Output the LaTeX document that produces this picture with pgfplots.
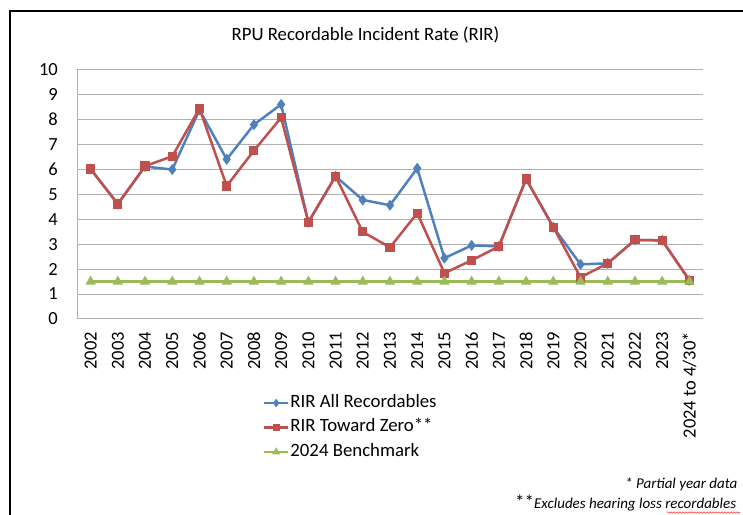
\documentclass[border=0pt]{standalone}
\usepackage{fontspec}
\setmainfont{Carlito}
\usepackage{pgfplots}
\pgfplotsset{compat=1.18}
\usetikzlibrary{decorations.pathmorphing}
\definecolor{cblue}{HTML}{4F81BD}
\definecolor{cred}{HTML}{C0504D}
\definecolor{cgreen}{HTML}{9BBB59}
\definecolor{cgrid}{HTML}{B0B0B0}
\begin{document}
\begin{tikzpicture}[x=1bp,y=1bp]
\useasboundingbox (0,0) rectangle (743,515);
\draw[line width=2bp] (10,-2) -- (10,504) -- (750,504);
\node[anchor=base, font=\fontsize{18.8bp}{22bp}\selectfont] at (365.5,474) {RPU Recordable Incident Rate (RIR)};
\begin{axis}[
  at={(77bp,196bp)}, anchor=south west,
  width=626bp, height=249.5bp, scale only axis,
  xmin=-0.5, xmax=22.5, ymin=0, ymax=10,
  ytick={0,1,...,10},
  xtick={0,1,...,22},
  xticklabels={2002,2003,2004,2005,2006,2007,2008,2009,2010,2011,2012,2013,2014,2015,2016,2017,2018,2019,2020,2021,2022,2023,{2024 to 4/30*}},
  axis x line*=bottom, axis y line*=left,
  axis line style={cgrid, line width=1bp, -},
  ymajorgrids, grid style={cgrid, line width=1bp},
  major tick length=0pt,
  tick label style={font=\fontsize{18.5bp}{22bp}\selectfont, inner sep=0pt},
  xticklabel shift=13bp, yticklabel shift=19bp,
  x tick label style={rotate=90, anchor=east},
  /pgf/number format/assume math mode=true,
  clip=false,
  legend style={at={(0.297,-0.2986)}, anchor=north west, draw=none, fill=none,
    inner sep=0pt, outer sep=0pt, font=\fontsize{18.8bp}{22bp}\selectfont,
    row sep=5.5bp, nodes={inner sep=1bp, text height=13bp, text depth=4bp}},
  legend cell align=left,
  legend image code/.code={\draw[mark repeat=2,mark phase=2,mark size=2.2bp] plot coordinates {(0bp,0bp)(12bp,0bp)(24bp,0bp)};},
]
\addplot[cblue, line width=2.5bp, mark=diamond*, mark size=3.5bp, mark options={solid}] coordinates {
(0,6.01)(1,4.61)(2,6.11)(3,5.99)(4,8.38)(5,6.40)(6,7.79)(7,8.60)(8,3.88)(9,5.72)(10,4.77)(11,4.56)
(12,6.04)(13,2.44)(14,2.95)(15,2.91)(16,5.61)(17,3.68)(18,2.19)(19,2.23)(20,3.17)(21,3.15)(22,1.55)};
\addlegendentry{RIR All Recordables}
\addplot[cred, line width=2.5bp, mark=square*, mark size=3.3bp, mark options={solid}] coordinates {
(0,6.01)(1,4.61)(2,6.13)(3,6.52)(4,8.44)(5,5.33)(6,6.75)(7,8.07)(8,3.88)(9,5.72)(10,3.49)(11,2.87)
(12,4.24)(13,1.84)(14,2.35)(15,2.91)(16,5.61)(17,3.68)(18,1.67)(19,2.23)(20,3.17)(21,3.15)(22,1.55)};
\addlegendentry{RIR Toward Zero**}
\addplot[cgreen, line width=2.5bp, mark=triangle*, mark size=3.5bp, mark options={solid}] coordinates {
(0,1.5)(1,1.5)(2,1.5)(3,1.5)(4,1.5)(5,1.5)(6,1.5)(7,1.5)(8,1.5)(9,1.5)(10,1.5)(11,1.5)
(12,1.5)(13,1.5)(14,1.5)(15,1.5)(16,1.5)(17,1.5)(18,1.5)(19,1.5)(20,1.5)(21,1.5)(22,1.5)};
\addlegendentry{2024 Benchmark}
\end{axis}
\node[anchor=base west, inner sep=0pt, font=\fontsize{15bp}{18bp}\selectfont\itshape] at (625,26) {* Partial year data};
\node[anchor=base west, inner sep=0pt] at (515,6) {{\fontsize{19bp}{22bp}\selectfont **}{\fontsize{15bp}{18bp}\selectfont\itshape Excludes hearing loss recordables}};
\draw[red!80, line width=0.6bp, decorate, decoration={snake, amplitude=0.7bp, segment length=3bp}] (667,2.5) -- (740,2.5);
\end{tikzpicture}
\end{document}
